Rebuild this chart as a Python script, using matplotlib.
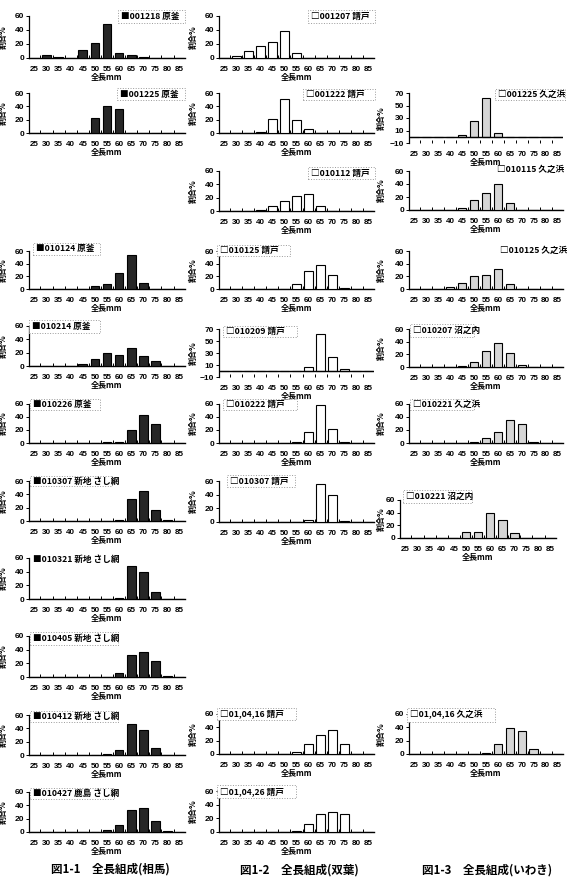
import matplotlib
matplotlib.use('Agg')
import matplotlib.pyplot as plt
from matplotlib.patches import Rectangle

W, H = 570, 883
fig = plt.figure(figsize=(W / 100, H / 100), dpi=100)
fig.patch.set_facecolor('white')

CJK = ['Noto Sans CJK JP', 'DejaVu Sans']
NUM = ['Liberation Sans', 'DejaVu Sans']

# ---------------- data ----------------
lengths = [25, 30, 35, 40, 45, 50, 55, 60, 65, 70, 75, 80, 85]
xticklabels = [str(v) for v in lengths]

# 相馬
s001218 = [0.5, 4.5, 1, 0, 12, 21, 48, 7, 4, 1, 0, 0, 0]
s001225 = [0, 0, 0, 0, 0, 23, 41, 36, 0, 0, 0, 0, 0]
s010124 = [0, 0, 0, 0, 0.5, 4, 8, 26, 53, 10, 0, 0, 0]
s010214 = [0, 0, 0, 0, 3, 11, 19, 16, 27, 15, 7.5, 0, 0]
s010226 = [0, 0, 0, 0, 0, 0, 1, 2, 20, 43, 29, 0, 0]
s010307 = [0, 0, 0, 0, 0, 0, 0, 1.5, 33, 45, 16, 1, 0]
s010321 = [0, 0, 0, 0, 0, 0, 0, 1, 49, 40, 10, 0, 0]
s010405 = [0, 0, 0, 0, 0, 0, 0, 5.5, 32.5, 37, 23, 1.5, 0]
s010412 = [0, 0, 0, 0, 0, 0, 1, 7, 46.5, 37, 10, 0.5, 0]
s010427 = [0, 0, 0, 0, 0, 0, 3.5, 10.5, 33, 35.5, 17, 1.5, 0]

# 双葉
f001207 = [0, 2.5, 10, 16.5, 23.5, 38.5, 7, 0, 0, 0, 0, 0, 0]
f001222 = [0, 0, 0, 1, 21, 51, 20, 6.5, 0, 0, 0, 0, 0]
f010112 = [0, 0, 0, 2, 8, 15, 23, 25, 8, 0, 0, 0, 0]
f010125 = [0, 0, 0, 0, 0.5, 0, 8, 29, 38, 22, 1, 0, 0]
f010209 = [0, 0, 0, 0, 0, 0.5, 0.5, 6, 62, 24, 3, 0, 0]
f010222 = [0, 0, 0, 0, 0, 0, 1, 17, 58, 21, 1, 0, 0]
f010307 = [0, 0, 0, 0, 0, 0, 0.5, 3.5, 55, 39, 1, 0, 0]
f010416 = [0, 0, 0, 0, 0, 0, 3.5, 15, 28, 36, 14.5, 0, 0]
f010426 = [0, 0, 0, 0, 0, 0, 1, 12, 27, 30, 26.5, 0, 0]

# いわき
i001225 = [0, 0, 0, 0, 3, 25, 62, 6, 0, 0, 0, 0, 0]
i010115 = [0, 0, 0, 0, 2.5, 15, 25.5, 40, 11.5, 0, 0, 0, 0]
i010125 = [0, 0, 0, 2.5, 10, 21, 22.5, 31, 7.5, 0.5, 0, 0, 0]
i010207 = [0, 0, 0, 0, 1.5, 8, 25.5, 38.5, 22, 3.5, 0, 0, 0]
i010221k = [0, 0, 0, 0, 0, 1, 8, 17.5, 36, 30, 2, 0, 0]
i010221n = [0, 0, 0, 0.5, 0.5, 9.5, 10, 39, 28.5, 8, 0, 0, 0]
i010416 = [0, 0, 0, 0, 0, 0, 1, 15, 39.5, 34.5, 7.5, 0, 0]

captions = ['図1-1　全長組成(相馬)', '図1-2　全長組成(双葉)', '図1-3　全長組成(いわき)']

# ---------------- layout ----------------
COLS = {
    0: dict(l=29, r=185, fc='#262626', mark='■', ylx=8),
    1: dict(l=219, r=374, fc='white', mark='□', ylx=198),
    2: dict(l=409, r=563, fc='#d6d6d6', mark='□', ylx=386),
}

# (column, data, label, top, bottom, mode, legend box (x0,y0,x1,y1), has_box, l/r override)
panels = [
    (0, s001218, '001218 原釜', 16, 58, 60, (118, 10, 185, 23), True, None),
    (0, s001225, '001225 原釜', 93, 133, 60, (117, 88, 185, 100), True, None),
    (0, s010124, '010124 原釜', 251, 289, 60, (33, 243, 100, 255), True, None),
    (0, s010214, '010214 原釜', 326, 366, 60, (29, 320, 100, 333), True, None),
    (0, s010226, '010226 原釜', 404, 443, 60, (30, 399, 100, 410), True, None),
    (0, s010307, '010307 新地 さし網', 481, 521, 60, (30, 476, 112, 486), True, None),
    (0, s010321, '010321 新地 さし網', 558, 599, 60, (30, 554, 112, 564), False, None),
    (0, s010405, '010405 新地 さし網', 636, 677, 60, (30, 632, 118, 645), True, None),
    (0, s010412, '010412 新地 さし網', 715, 755, 60, (30, 711, 118, 722), True, None),
    (0, s010427, '010427 鹿島 さし網', 792, 832, 60, (30, 788, 114, 799), True, None),

    (1, f001207, '001207 請戸', 16, 58, 60, (308, 10, 375, 23), True, None),
    (1, f001222, '001222 請戸', 93, 133, 60, (303, 89, 375, 100), True, None),
    (1, f010112, '010112 請戸', 171, 211, 60, (308, 167, 375, 179), True, None),
    (1, f010125, '010125 請戸', 251, 289, 60, (217, 245, 290, 256), True, None),
    (1, f010209, '010209 請戸', 329, 377, 70, (223, 326, 297, 337), True, None),
    (1, f010222, '010222 請戸', 404, 443, 60, (223, 399, 297, 410), True, None),
    (1, f010307, '010307 請戸', 481, 522, 60, (227, 475, 295, 487), True, None),
    (1, f010416, '01,04,16 請戸', 714, 754, 60, (217, 708, 296, 720), True, None),
    (1, f010426, '01,04,26 請戸', 791, 832, 60, (217, 785, 296, 798), True, None),

    (2, i001225, '001225 久之浜', 93, 143, 70, (495, 89, 565, 100), True, None),
    (2, i010115, '010115 久之浜', 171, 210, 60, (494, 164, 565, 175), False, None),
    (2, i010125, '010125 久之浜', 251, 289, 60, (497, 245, 565, 256), False, None),
    (2, i010207, '010207 沼之内', 329, 367, 60, (410, 324, 474, 337), True, None),
    (2, i010221k, '010221 久之浜', 404, 443, 60, (410, 399, 474, 410), True, None),
    (2, i010221n, '010221 沼之内', 500, 538, 60, (403, 490, 472, 503), True, (400, 556)),
    (2, i010416, '01,04,16 久之浜', 714, 754, 60, (407, 708, 495, 722), True, None),
]

caption_pos = [(110, 869), (299, 870), (487, 870)]

x = list(range(len(lengths)))

for col, vals, label, top, bot, mode, leg, has_box, lr in panels:
    c = COLS[col]
    l, r = (lr if lr else (c['l'], c['r']))
    ax = fig.add_axes([l / W, 1 - bot / H, (r - l) / W, (bot - top) / H])
    ax.set_facecolor('none')
    ax.bar(x, vals, width=0.72, color=c['fc'], edgecolor='black', linewidth=0.8, zorder=3)
    ax.set_xlim(-0.45, len(lengths) - 0.55)
    if mode == 60:
        ax.set_ylim(0, 60)
        ax.set_yticks([0, 20, 40, 60])
    else:
        ax.set_ylim(-10, 70)
        ax.set_yticks([-10, 10, 30, 50, 70])
        ax.axhline(0, color='black', lw=1.0, zorder=4)
        ax.spines['bottom'].set_visible(False)
    for s in ('top', 'right'):
        ax.spines[s].set_visible(False)
    ax.spines['left'].set_linewidth(0.9)
    ax.spines['bottom'].set_linewidth(1.0)
    ax.set_xticks(x)
    ax.set_xticklabels(xticklabels, fontsize=5.8, family=NUM, fontweight='bold')
    ax.set_xticks([k + 0.5 for k in x[:-1]], minor=True)
    ax.tick_params(axis='x', which='major', length=0, pad=6)
    ax.tick_params(axis='x', which='minor', length=2, width=0.7, direction='in')
    ax.tick_params(axis='y', length=2, width=0.7, pad=1.5, labelsize=6)
    for t in ax.get_yticklabels():
        t.set_fontfamily(NUM)
        t.set_fontweight('bold')
    ax.set_xlabel('全長mm', fontsize=5.8, family=CJK, fontweight='bold', labelpad=0)
    ax.set_ylabel('割合%', fontsize=5.8, family=CJK, fontweight='bold', labelpad=1)
    ax.yaxis.set_label_coords((c['ylx'] - l) / (r - l), 0.5)

    x0, y0, x1, y1 = leg
    if has_box:
        fig.patches.append(Rectangle((x0 / W, 1 - y1 / H), (x1 - x0) / W, (y1 - y0) / H,
                                     transform=fig.transFigure, facecolor='white',
                                     edgecolor='#9a9a9a', linestyle=':', linewidth=0.7, zorder=5))
    fig.text((x0 + 3) / W, 1 - ((y0 + y1) / 2) / H, c['mark'] + label, fontsize=6.2,
             family=CJK, fontweight='bold', va='center', ha='left', zorder=6)

for cap, (cx, cy) in zip(captions, caption_pos):
    fig.text(cx / W, 1 - cy / H, cap, fontsize=8.3, family=CJK, fontweight='bold',
             ha='center', va='center')

fig.savefig('out.png', dpi=100, facecolor='white')
